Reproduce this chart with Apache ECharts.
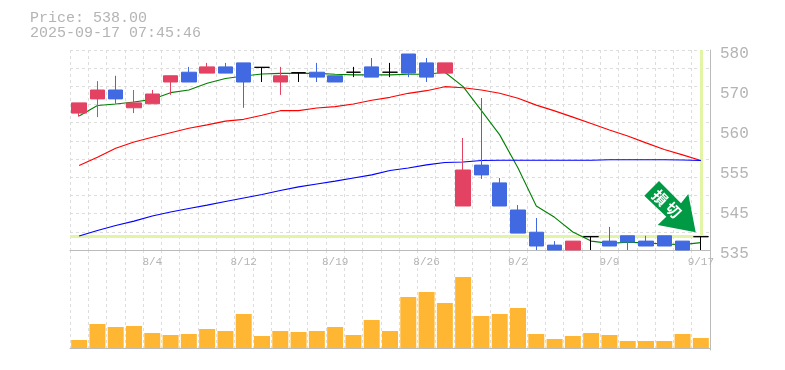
<!DOCTYPE html>
<html>
<head>
<meta charset="utf-8">
<title>Price chart</title>
<script src="https://cdn.jsdelivr.net/npm/echarts@6/dist/echarts.min.js"></script>
<style>
	html, body { margin: 0; padding: 0; background: #fff; }
	#chart { width: 785px; height: 370px; }
</style>
</head>
<body>
<div id="chart"></div>
<script>
	// 7/29 - 9/17, daily
	const dates = ['7/29', '7/30', '7/31', '8/1', '8/4', '8/5', '8/6', '8/7', '8/8', '8/12', '8/13', '8/14',
		'8/15', '8/18', '8/19', '8/20', '8/21', '8/22', '8/25', '8/26', '8/27', '8/28', '8/29', '9/1', '9/2',
		'9/3', '9/4', '9/5', '9/8', '9/9', '9/10', '9/11', '9/12', '9/16', '9/17'];
	const dateLabels = ['8/4', '8/12', '8/19', '8/26', '9/2', '9/9', '9/17'];

	const opens = [565.8, 569, 571, 567, 567.9, 572.8, 575, 574.8, 576.2, 577.1, 576.1, 572.8,
		574.9, 575, 574.2, 575, 576.2, 575, 579.1, 577.1, 574.8, 544.9, 554.1, 550.1, 544,
		539, 536.1, 535, 538, 537, 538.2, 537, 538.2, 537, 538];
	const closes = [568.1, 571, 569, 568.1, 570.1, 574.2, 572.8, 576.2, 574.8, 572.8, 576.1, 574.2,
		574.9, 573.9, 572.8, 575, 573.9, 575, 574.8, 573.9, 577.1, 553, 551.9, 544.9, 538.8,
		535.9, 535, 537, 538, 535.9, 536.8, 535.9, 535.9, 535, 538];
	const lows = [565, 564.9, 567.9, 565.8, 567.9, 569.9, 572.8, 574.8, 574.8, 567, 572.8, 569.9,
		572.8, 572.8, 572.8, 573.9, 573.9, 573.9, 573.9, 572.8, 574.8, 544.9, 551, 544.9, 538.8,
		535, 535, 535, 535, 535.9, 535, 535.9, 535.9, 535, 535];
	const highs = [568.1, 573, 574.2, 571, 571, 574.2, 576.2, 577.1, 577.1, 577.1, 576.1, 576.2,
		574.9, 577.1, 574.2, 576.2, 578.2, 577.1, 579.1, 578.2, 577.1, 560.2, 569.2, 551.2, 545.1,
		542.2, 537, 537, 538, 540.2, 538.2, 538.2, 538.2, 537, 538];

	const ma5 = [565.15, 567.5, 567.85, 568.3, 568.9, 570.4, 571, 572.5, 573.6, 574.15, 574.6, 574.75,
		574.75, 574.75, 574.55, 574.4, 574.4, 574.4, 574.55, 574.55, 575, 571.75, 566.35, 560.9, 553.45,
		544.9, 542.35, 539.05, 537, 536.5, 536.75, 536.6, 536.35, 536.2, 536.65];
	const ma25 = [554, 555.85, 557.9, 559.3, 560.35, 561.4, 562.4, 563.15, 564, 564.4, 565.3, 566.35,
		566.35, 566.95, 567.25, 567.85, 568.7, 569.35, 570.25, 570.85, 571.75, 571.5, 571, 570.25, 569.15,
		567.6, 566.3, 564.9, 563.45, 562, 560.65, 559.1, 557.6, 556.4, 555.15];
	const ma75 = [538.15, 539.4, 540.5, 541.5, 542.65, 543.55, 544.35, 545.1, 545.9, 546.7, 547.5, 548.4,
		549.2, 549.85, 550.5, 551.2, 551.9, 552.9, 553.45, 554.15, 554.7, 554.8, 555.15, 555.2, 555.2,
		555.2, 555.2, 555.2, 555.2, 555.3, 555.3, 555.3, 555.3, 555.25, 555.15];
	const volumes = [8, 24, 21, 22, 15, 13, 14, 19, 17, 34, 12, 17, 16, 17, 21, 13, 28, 17, 51, 56, 45, 71,
		32, 34, 40, 14, 9, 12, 15, 13, 7, 7, 7, 14, 10];

	// 目盛は等間隔、ラベルだけ5円単位に丸められている
	const priceTicks = [535, 544, 553, 562, 571, 580];
	const priceLabels = ['535', '545', '555', '560', '570', '580'];

	const lastPrice = 538;
	const lastDate = '9/17';
	const titleLines = ['Price: 538.00', '2025-09-17 07:45:46'];
	const arrowChars = ['損', '切'];

	const MONO = '"Liberation Mono", "DejaVu Sans Mono", monospace';
	const GRAY = '#b4b4b4';
	const LINE_GRAY = '#bbbbbb';
	const GRID_GRAY = '#dddddd';
	const HILITE = '#e2f4a6';

	const dashed = { show: true, lineStyle: { color: GRID_GRAY, type: [3, 3], width: 1 } };
	const solid = { show: true, lineStyle: { color: LINE_GRAY, width: 1 } };

	const chart = echarts.init(document.getElementById('chart'), null, { renderer: 'canvas' });

	chart.setOption({
		animation: false,
		backgroundColor: '#fff',
		title: {
			text: titleLines.join('\n'),
			left: 30,
			top: 11,
			padding: 0,
			textStyle: { fontFamily: MONO, fontSize: 15, fontWeight: 'normal', color: GRAY, lineHeight: 15 }
		},
		grid: [
			{ left: 70, right: 75, top: 50, height: 200 },
			{ left: 70, right: 75, top: 250, height: 100 }
		],
		xAxis: [{
			type: 'category',
			gridIndex: 0,
			data: dates,
			boundaryGap: true,
			axisLine: solid,
			axisTick: { show: false },
			splitLine: Object.assign({ interval: 0 }, dashed),
			axisLabel: {
				interval: 0,
				margin: 7,
				fontFamily: MONO,
				fontSize: 11,
				color: GRAY,
				hideOverlap: false,
				formatter: v => dateLabels.includes(v) ? v : ''
			}
		}, {
			type: 'category',
			gridIndex: 1,
			data: dates,
			boundaryGap: true,
			axisLine: solid,
			axisTick: { show: false },
			axisLabel: { show: false },
			splitLine: Object.assign({ interval: 0 }, dashed)
		}],
		yAxis: [{
			// 価格軸
			type: 'value',
			gridIndex: 0,
			position: 'right',
			min: 535,
			max: 580,
			axisLine: solid,
			axisTick: { show: false },
			splitLine: { show: false },
			axisLabel: {
				customValues: priceTicks,
				margin: 10,
				verticalAlign: 'top',
				lineHeight: 7,
				fontFamily: MONO,
				fontSize: 16,
				color: GRAY,
				formatter: v => priceLabels[priceTicks.indexOf(v)]
			}
		}, {
			// 横グリッド専用 (11分割)
			type: 'value',
			gridIndex: 0,
			min: 0,
			max: 11,
			interval: 1,
			axisLine: { show: false },
			axisTick: { show: false },
			axisLabel: { show: false },
			splitLine: dashed
		}, {
			// 出来高
			type: 'value',
			gridIndex: 1,
			position: 'right',
			min: -2,
			max: 98,
			axisLine: solid,
			axisTick: { show: false },
			axisLabel: { show: false },
			splitLine: { show: false }
		}],
		series: [{
			name: 'Price',
			type: 'candlestick',
			xAxisIndex: 0,
			yAxisIndex: 0,
			barWidth: 15,
			z: 5,
			itemStyle: {
				color: '#e44262',
				color0: '#4169e1',
				borderColor: '#e44262',
				borderColor0: '#4169e1',
				borderColorDoji: '#000000',
				borderWidth: 1
			},
			data: dates.map((d, i) => [opens[i], closes[i], lows[i], highs[i]])
		}, {
			name: 'MA5',
			type: 'line',
			xAxisIndex: 0,
			yAxisIndex: 0,
			data: ma5,
			symbol: 'none',
			z: 4,
			lineStyle: { color: '#008000', width: 1.1 },
			markLine: {
				silent: true,
				symbol: 'none',
				animation: false,
				label: { show: false },
				lineStyle: { color: HILITE, type: 'solid', width: 3 },
				z: 1,
				data: [
					[{ xAxis: lastDate, yAxis: lastPrice }, { xAxis: lastDate, yAxis: 580 }],
					[{ x: 70, yAxis: lastPrice }, { x: 708, yAxis: lastPrice }]
				]
			}
		}, {
			name: 'MA25',
			type: 'line',
			xAxisIndex: 0,
			yAxisIndex: 0,
			data: ma25,
			symbol: 'none',
			z: 4,
			lineStyle: { color: '#ff0000', width: 1.1 }
		}, {
			name: 'MA75',
			type: 'line',
			xAxisIndex: 0,
			yAxisIndex: 0,
			data: ma75,
			symbol: 'none',
			z: 4,
			lineStyle: { color: '#0000ff', width: 1.1 }
		}, {
			name: 'Volume',
			type: 'bar',
			xAxisIndex: 1,
			yAxisIndex: 2,
			data: volumes,
			barWidth: 16,
			itemStyle: { color: '#ffb733' }
		}],
		graphic: [{
			type: 'polygon',
			z: 10,
			shape: { points: [[659, 181], [681, 203.3], [688.3, 194], [695.7, 232.3], [657.7, 225], [666.3, 216.7], [644.3, 195.7]] },
			style: { fill: '#009944' }
		}, {
			type: 'text',
			z: 11,
			x: 660,
			y: 197.7,
			rotation: -Math.PI / 4,
			style: {
				text: arrowChars[0],
				fill: '#fff',
				font: 'bold 15px "Noto Sans CJK JP"',
				align: 'center',
				verticalAlign: 'middle'
			}
		}, {
			type: 'text',
			z: 11,
			x: 673.3,
			y: 210,
			rotation: -Math.PI / 4,
			style: {
				text: arrowChars[1],
				fill: '#fff',
				font: 'bold 15px "Noto Sans CJK JP"',
				align: 'center',
				verticalAlign: 'middle'
			}
		}]
	});
</script>
</body>
</html>
